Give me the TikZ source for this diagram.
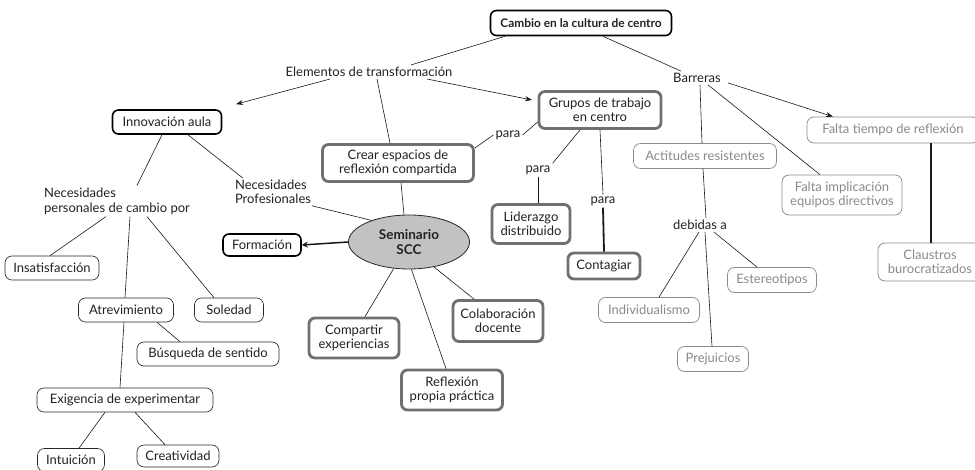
\documentclass[tikz,border=0pt]{standalone}
\usepackage{fontspec}
\setmainfont{Lato}
\usetikzlibrary{arrows.meta,shapes.geometric}
\definecolor{lg}{HTML}{8A8A8A}
\definecolor{dg}{HTML}{707070}
\definecolor{ef}{HTML}{C2C2C2}
\definecolor{tx}{HTML}{222222}
\begin{document}
\begin{tikzpicture}[x=1pt,y=-1pt, font=\fontsize{13}{13.5}\selectfont, text=tx,
  every node/.style={inner sep=0pt},
  txt/.style={align=center, inner sep=2pt},
  bbox/.style={draw=black, line width=1.6pt, rounded corners=6pt, align=center},
  gbox/.style={draw=dg, line width=2.8pt, rounded corners=6pt, align=center},
  tbox/.style={draw=black!85, line width=0.6pt, rounded corners=7pt, align=center},
  lbox/.style={draw=lg, text=lg, line width=0.7pt, rounded corners=7pt, align=center},
  ln/.style={line width=0.6pt, draw=black!90},
  thk/.style={line width=1.8pt, draw=black!90},
  arr/.style={line width=0.6pt, draw=black!90, -{Stealth[length=7pt,width=5pt]}},
  tarr/.style={line width=1.5pt, draw=black!90, -{Stealth[length=6pt,width=6pt]}}]
\path[use as bounding box] (0,0) rectangle (975,470);
\fill[white] (0,0) rectangle (975,470);

% nodes
\node[bbox, minimum width=181, minimum height=25, font=\fontsize{11.9}{13}\selectfont\bfseries] (cambio) at (581,23) {Cambio en la cultura de centro};
\node[txt] (elem) at (369,72) {Elementos de transformación};
\node[txt] (barr) at (697,78) {Barreras};
\node[bbox, minimum width=109, minimum height=24] (innov) at (167,122) {Innovación aula};
\node[gbox, minimum width=122, minimum height=37] (grupos) at (600,110) {Grupos de trabajo\\en centro};
\node[gbox, minimum width=151, minimum height=37] (crear) at (398,163) {Crear espacios de\\reflexión compartida};
\node[txt] (para1) at (508,135) {para};
\node[txt] (para2) at (538,170) {para};
\node[txt] (para3) at (603,201) {para};
\node[gbox, minimum width=78, minimum height=39] (lider) at (531,224) {Liderazgo\\distribuido};
\node[gbox, minimum width=72, minimum height=26] (contag) at (604,266) {Contagiar};
\node[ellipse, draw=black!85, fill=ef, line width=0.8pt, minimum width=121, minimum height=54, align=center, font=\fontsize{13.5}{15}\selectfont\bfseries] (sem) at (409,242) {Seminario\\SCC};
\node[bbox, minimum width=78, minimum height=22] (form) at (262,245) {Formación};
\node[txt, align=left] (nprof) at (273,192) {Necesidades\\Profesionales};
\node[txt, align=left, font=\fontsize{13}{15}\selectfont] (npers) at (117,201) {Necesidades\\personales de cambio por};
\node[tbox, minimum width=94, minimum height=24] (insat) at (52,268) {Insatisfacción};
\node[tbox, minimum width=95, minimum height=24] (atrev) at (126,310) {Atrevimiento};
\node[tbox, minimum width=69, minimum height=24] (soled) at (229,310) {Soledad};
\node[tbox, minimum width=142, minimum height=24] (busq) at (208,354) {Búsqueda de sentido};
\node[tbox, minimum width=176, minimum height=24] (exig) at (125,400) {Exigencia de experimentar};
\node[tbox, minimum width=67, minimum height=23] (intu) at (71,460) {Intuición};
\node[tbox, minimum width=82, minimum height=22] (creat) at (178,456) {Creatividad};
\node[gbox, minimum width=90, minimum height=40] (comp) at (354,338) {Compartir\\experiencias};
\node[gbox, minimum width=101, minimum height=40] (refl) at (452,390) {Reflexión\\propia práctica};
\node[gbox, minimum width=90, minimum height=41] (colab) at (498,321) {Colaboración\\docente};
\node[lbox, minimum width=143, minimum height=25] (actit) at (705,156) {Actitudes resistentes};
\node[lbox, minimum width=172, minimum height=26] (ftiem) at (893,130) {Falta tiempo de reflexión};
\node[lbox, minimum width=120, minimum height=40] (fimpl) at (842,195) {Falta implicación\\equipos directivos};
\node[txt] (debid) at (700,225) {debidas a};
\node[lbox, minimum width=101, minimum height=25] (indiv) at (649,310) {Individualismo};
\node[lbox, minimum width=89, minimum height=25] (ester) at (772,280) {Estereotipos};
\node[lbox, minimum width=71, minimum height=25] (prej) at (713,359) {Prejuicios};
\node[lbox, minimum width=104, minimum height=38] (claus) at (930,262) {Claustros\\burocratizados};

% connectors
\draw[ln] ([xshift=-76pt]cambio.south) -- ([xshift=42pt]elem.north);
\draw[ln] ([xshift=22pt]cambio.south) -- ([xshift=-16pt]barr.north);
\draw[arr] ([xshift=-39pt]elem.south) -- ([xshift=69pt,yshift=5pt]innov.north);
\draw[arr] ([xshift=58pt]elem.south) -- ([xshift=-68pt,yshift=10pt]grupos.center);
\draw[ln] ([xshift=8pt]elem.south) -- ([xshift=-8pt]crear.north);
\draw[ln] ([yshift=15pt]crear.east) -- (para1.west);
\draw[ln] (para1.east) -- ([yshift=-12pt]grupos.west);
\draw[ln] ([xshift=-20pt]grupos.south) -- (para2.north east);
\draw[ln] (para2.south) -- ([xshift=7pt]lider.north);
\draw[ln] (grupos.south) -- (para3.north);
\draw[thk] (para3.south) -- (contag.north);
\draw[ln] ([xshift=3pt]crear.south) -- ([xshift=-5pt]sem.north);
\draw[ln] ([xshift=21pt]innov.south) -- ([xshift=-30pt]nprof.north);
\draw[ln] ([xshift=39pt]nprof.south) -- (sem.150);
\draw[ln] ([xshift=-5pt]innov.south) -- ([xshift=20pt]npers.north);
\draw[ln] ([xshift=-11pt]npers.south) -- ([xshift=-2pt]insat.north);
\draw[ln] ([xshift=13pt]npers.south) -- ([xshift=-1pt]atrev.north);
\draw[ln] ([xshift=30pt]npers.south) -- ([xshift=-15pt]soled.north);
\draw[tarr] (sem.west) -- (form.east);
\draw[ln] (sem.240) -- ([xshift=11pt]comp.north);
\draw[ln] (sem.275) -- ([xshift=-6pt]refl.north);
\draw[ln] (sem.315) -- ([xshift=-24pt]colab.north);
\draw[ln] ([xshift=31pt]atrev.south) -- ([xshift=-28pt]busq.north);
\draw[ln] ([xshift=-2pt]atrev.south) -- ([xshift=-5pt]exig.north);
\draw[ln] ([xshift=-20pt]exig.south) -- ([xshift=8pt]intu.north);
\draw[ln] ([xshift=10pt]exig.south) -- ([xshift=-13pt]creat.north);
\draw[ln] ([xshift=3pt]barr.south) -- ([xshift=-3pt]actit.north);
\draw[ln] ([xshift=11pt]barr.south) -- ([xshift=-22pt]fimpl.north);
\draw[arr] ([xshift=31pt,yshift=2pt]barr.south) -- ([xshift=-60pt]ftiem.north);
\draw[ln] ([xshift=-2pt]actit.south) -- ([xshift=6pt]debid.north);
\draw[ln] ([xshift=-1pt]debid.south) -- ([xshift=10pt]indiv.north);
\draw[ln] ([xshift=5pt]debid.south) -- ([xshift=-1pt]prej.north);
\draw[ln] ([xshift=14pt]debid.south) -- ([xshift=-15pt]ester.north);
\draw[thk] ([xshift=38pt]ftiem.south) -- ([xshift=1pt]claus.north);
\end{tikzpicture}
\end{document}
